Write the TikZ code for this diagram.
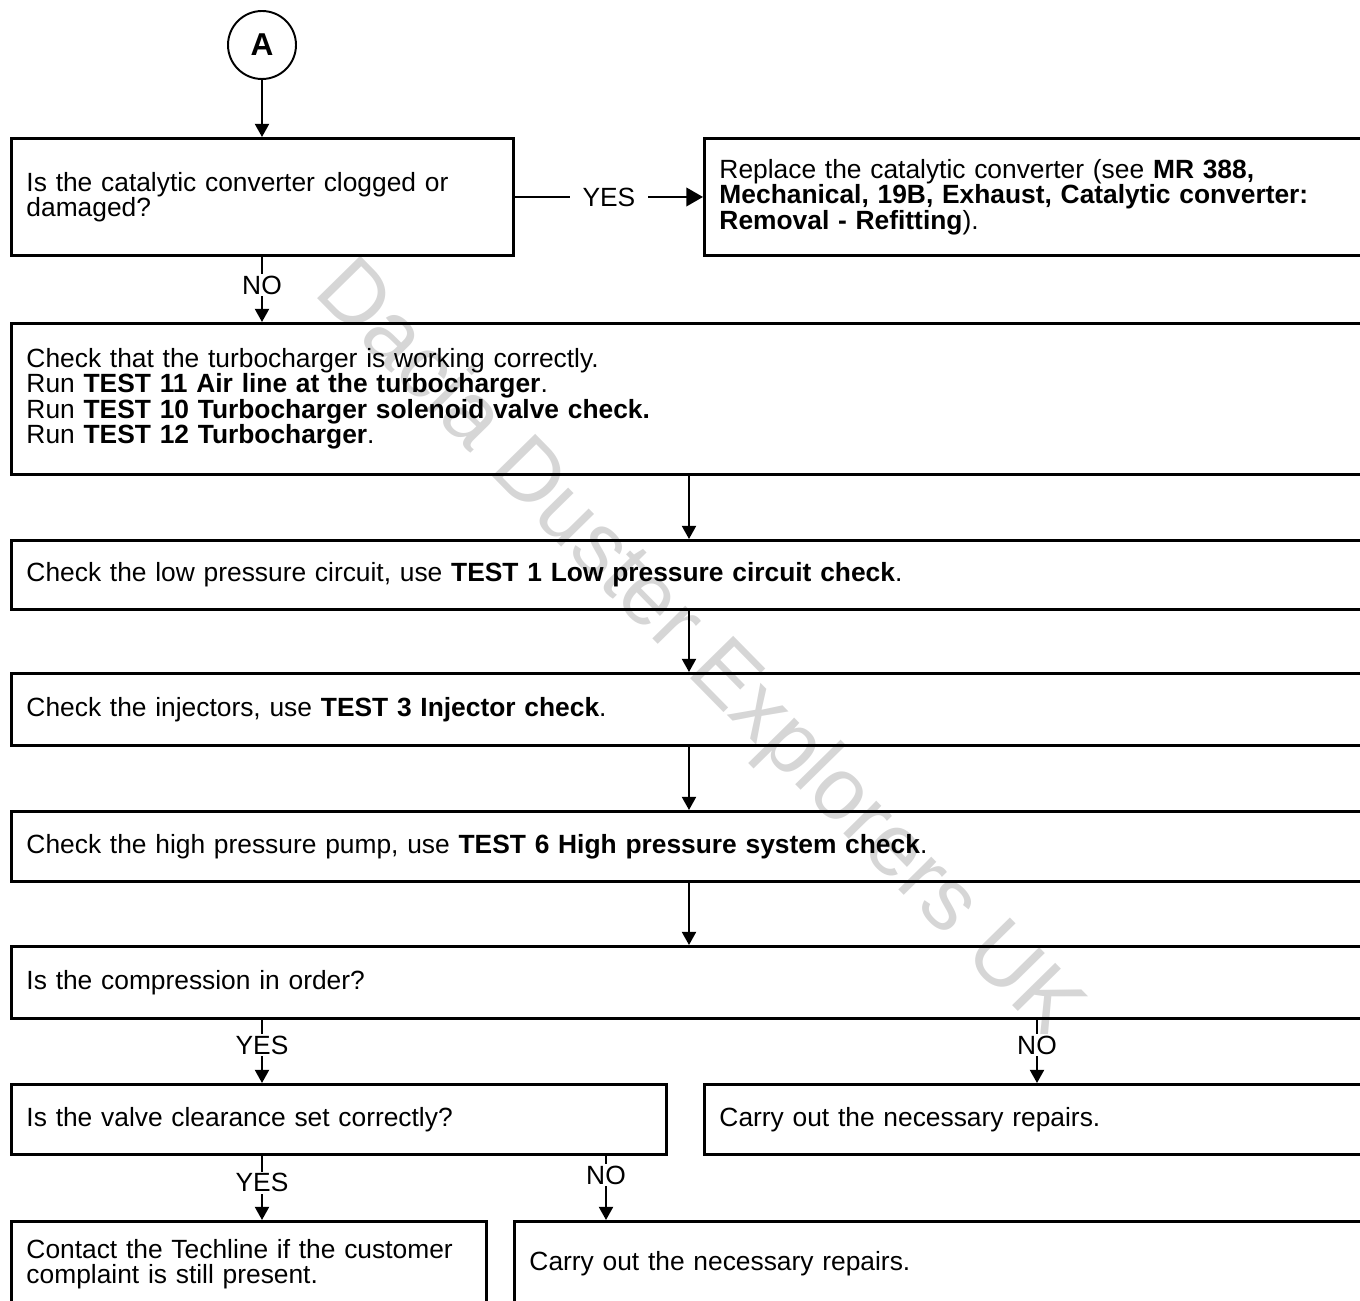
\documentclass[tikz,border=0pt]{standalone}
\usepackage{fontspec}
\setmainfont{Liberation Sans}
\usepackage{tikz}
\usetikzlibrary{arrows.meta}

\begin{document}
\begin{tikzpicture}[
		x=0.02cm, y=-0.02cm,
		font=\fontsize{15}{14.5}\selectfont,
		box/.style 2 args={rectangle, draw, line width=1.7pt, anchor=north west, minimum width=#1, text width=#1-0.6cm, minimum height=#2, inner xsep=0.3cm, inner ysep=0pt, align=left},
		start/.style={circle, draw, line width=1.1pt, minimum size=1.36cm, inner sep=0pt, font=\fontsize{18}{18}\selectfont\bfseries},
		arrow/.style={-{Triangle[width=8pt,length=7.5pt]}, line width=1.2pt},
		bigarrow/.style={-{Triangle[width=10.5pt,length=9.5pt]}, line width=1.5pt},
		answer/.style={fill=white, inner xsep=2pt, inner ysep=1pt}
		]
		\useasboundingbox (0,0) rectangle (1360,1301);
		\clip (0,0) rectangle (1360,1301);
		
		% Filigrane
		\node[black!16, rotate=-45.5, font=\fontsize{50}{50}\selectfont] (watermark) at (697,652) {Dacia Duster Explorers UK};
		
		% Départ
		\node[start] (A) at (262,45) {A};
		
		% Pot catalytique
		\node[box={10.04cm}{2.34cm}] (catalyst) at (10,137) {Is the catalytic converter clogged or\\damaged?};
		\node[box={13.6cm}{2.34cm}] (replace) at (703,137) {Replace the catalytic converter (see \textbf{MR 388,}\\\textbf{Mechanical, 19B, Exhaust, Catalytic converter:}\\\textbf{Removal - Refitting}).};
		
		% Contrôles
		\node[box={27.46cm}{3.02cm}] (turbo) at (10,322) {Check that the turbocharger is working correctly.\\Run \textbf{TEST 11 Air line at the turbocharger}.\\Run \textbf{TEST 10 Turbocharger solenoid valve check.}\\Run \textbf{TEST 12 Turbocharger}.};
		\node[box={27.46cm}{1.38cm}] (lowpressure) at (10,539) {Check the low pressure circuit, use \textbf{TEST 1 Low pressure circuit check}.};
		\node[box={27.46cm}{1.44cm}] (injectors) at (10,672) {Check the injectors, use \textbf{TEST 3 Injector check}.};
		\node[box={27.46cm}{1.40cm}] (highpressure) at (10,810) {Check the high pressure pump, use \textbf{TEST 6 High pressure system check}.};
		
		% Compression et jeu aux soupapes
		\node[box={27.46cm}{1.44cm}] (compression) at (10,945) {Is the compression in order?};
		\node[box={13.1cm}{1.40cm}] (valve) at (10,1083) {Is the valve clearance set correctly?};
		\node[box={13.6cm}{1.40cm}] (repair1) at (703,1083) {Carry out the necessary repairs.};
		\node[box={9.5cm}{1.70cm}] (techline) at (10,1220) {Contact the Techline if the customer\\complaint is still present.};
		\node[box={17.4cm}{1.70cm}] (repair2) at (513,1220) {Carry out the necessary repairs.};
		
		% Colonnes des connexions
		\coordinate (mid) at (689,0);
		\coordinate (noright) at (1037,0);
		\coordinate (nomid) at (606,0);
		
		% Connexions
		\draw[arrow] (A.south) -- (A |- catalyst.north);
		\draw[bigarrow] (catalyst.east) -- node[answer, inner xsep=7pt] {YES} (catalyst.east -| replace.west);
		\draw[arrow] (A |- catalyst.south) -- node[answer, pos=0.43] {NO} (A |- turbo.north);
		\draw[arrow] (mid |- turbo.south) -- (mid |- lowpressure.north);
		\draw[arrow] (mid |- lowpressure.south) -- (mid |- injectors.north);
		\draw[arrow] (mid |- injectors.south) -- (mid |- highpressure.north);
		\draw[arrow] (mid |- highpressure.south) -- (mid |- compression.north);
		\draw[arrow] (A |- compression.south) -- node[answer, pos=0.4] {YES} (A |- valve.north);
		\draw[arrow] (noright |- compression.south) -- node[answer, pos=0.4] {NO} (noright |- repair1.north);
		\draw[arrow] (A |- valve.south) -- node[answer, pos=0.42] {YES} (A |- techline.north);
		\draw[arrow] (nomid |- valve.south) -- node[answer, pos=0.3] {NO} (nomid |- repair2.north);
		
	\end{tikzpicture}
\end{document}
